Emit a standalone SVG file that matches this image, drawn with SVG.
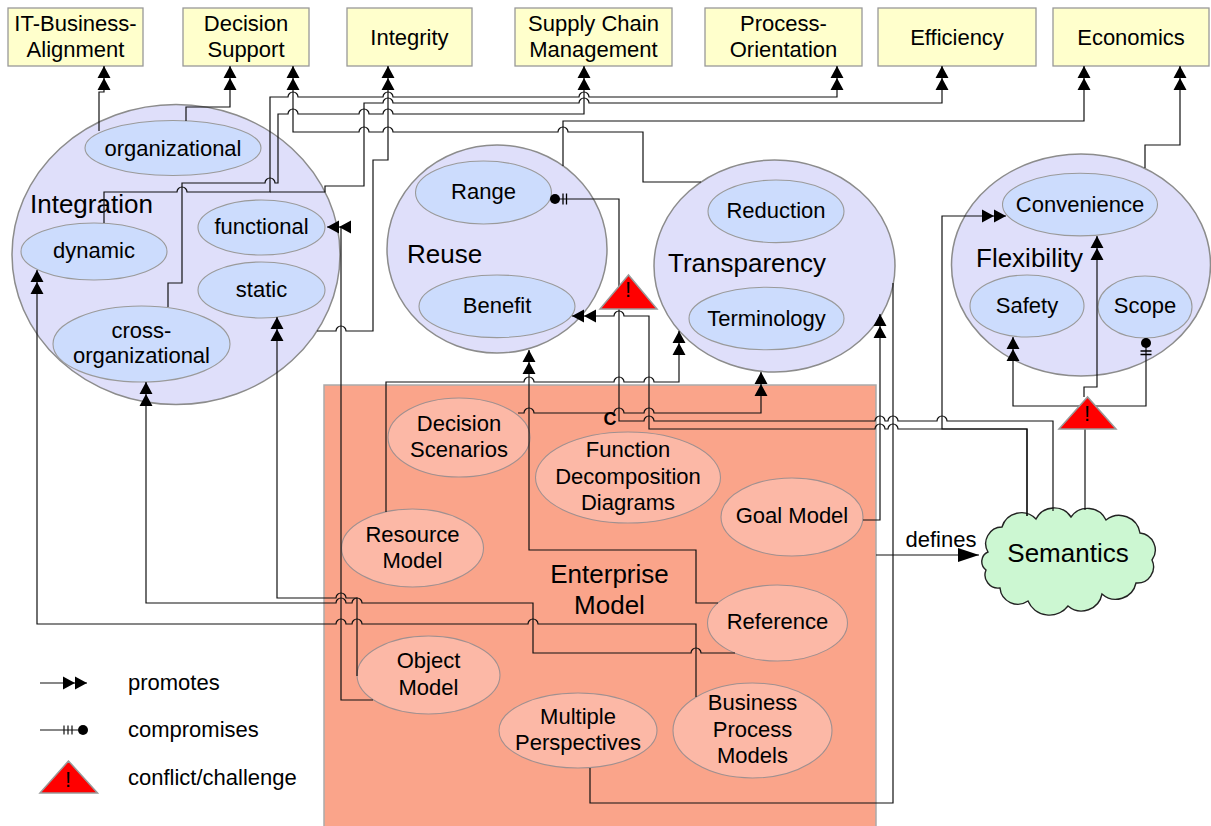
<svg xmlns="http://www.w3.org/2000/svg" width="1211" height="826" viewBox="0 0 1211 826">
<style>
.box{fill:#FFFFCC;stroke:#999;stroke-width:1.3}
.big{fill:#DFDFFA;stroke:#8c8c8c;stroke-width:1.5}
.inner{fill:#CCDCFD;stroke:#9a9a9a;stroke-width:1.1}
.em{fill:#FAA48A;stroke:#aaa;stroke-width:1.5}
.sal{fill:#FCB8A6;stroke:#a09090;stroke-width:1.1}
.warn{fill:#FF0000;stroke:#999;stroke-width:1.5}
.t{font-family:"Liberation Sans",Arial,sans-serif;font-size:22px;fill:#000;text-anchor:middle}
.tl{font-family:"Liberation Sans",Arial,sans-serif;font-size:22px;fill:#000}
.big-t{font-family:"Liberation Sans",Arial,sans-serif;font-size:26px;fill:#000}
.c{fill:none;stroke:#111;stroke-width:1.2}
.p{marker-end:url(#prom)}
.k{marker-end:url(#comp)}
</style>
<defs>
<marker id="prom" viewBox="-25 -7 26 14" refX="0" refY="0" markerWidth="26" markerHeight="14" markerUnits="userSpaceOnUse" orient="auto">
<path d="M0,0 L-12,-6.5 L-12,6.5 Z M-12,0 L-24,-6.5 L-24,6.5 Z" fill="#000"/>
</marker>
<marker id="comp" viewBox="-21 -7 22 14" refX="0" refY="0" markerWidth="22" markerHeight="14" markerUnits="userSpaceOnUse" orient="auto">
<circle cx="-5" cy="0" r="5" fill="#000"/>
<path d="M-13,-5.5 V5.5 M-16.5,-5.5 V5.5" stroke="#000" stroke-width="1.3"/>
</marker>
<marker id="arr" viewBox="-22 -8 23 16" refX="0" refY="0" markerWidth="23" markerHeight="16" markerUnits="userSpaceOnUse" orient="auto">
<path d="M0,0 L-21,-7 L-21,7 Z" fill="#000"/>
</marker>
</defs>
<rect width="1211" height="826" fill="#fff"/>

<!-- top goal boxes -->
<g id="it-business-alignment"><rect class="box" x="8" y="8" width="135" height="58"/><text class="t" x="75.5" y="31">IT-Business-</text><text class="t" x="75.5" y="57">Alignment</text></g>
<g id="decision-support"><rect class="box" x="183" y="8" width="126" height="58"/><text class="t" x="246" y="31">Decision</text><text class="t" x="246" y="57">Support</text></g>
<g id="integrity"><rect class="box" x="347" y="8" width="125" height="58"/><text class="t" x="409.5" y="45">Integrity</text></g>
<g id="supply-chain"><rect class="box" x="515" y="8" width="157" height="58"/><text class="t" x="593.5" y="31">Supply Chain</text><text class="t" x="593.5" y="57">Management</text></g>
<g id="process-orientation"><rect class="box" x="705" y="8" width="157" height="58"/><text class="t" x="783.5" y="31">Process-</text><text class="t" x="783.5" y="57">Orientation</text></g>
<g id="efficiency"><rect class="box" x="878" y="8" width="158" height="58"/><text class="t" x="957" y="45">Efficiency</text></g>
<g id="economics"><rect class="box" x="1053" y="8" width="156" height="58"/><text class="t" x="1131" y="45">Economics</text></g>

<!-- Integration -->
<g id="integration">
<ellipse class="big" cx="176" cy="254.5" rx="164" ry="150"/>
<text class="big-t" x="30" y="213">Integration</text>
<ellipse class="inner" cx="173" cy="148" rx="88" ry="27.5"/><text class="t" x="173" y="156">organizational</text>
<ellipse class="inner" cx="261.5" cy="227.5" rx="63.5" ry="27.5"/><text class="t" x="261.5" y="234">functional</text>
<ellipse class="inner" cx="94" cy="251.5" rx="73" ry="28.5"/><text class="t" x="94" y="258">dynamic</text>
<ellipse class="inner" cx="261.5" cy="290" rx="63.5" ry="28"/><text class="t" x="261.5" y="297">static</text>
<ellipse class="inner" cx="141.5" cy="344" rx="88.5" ry="38"/><text class="t" x="141.5" y="338">cross-</text><text class="t" x="141.5" y="363">organizational</text>
</g>

<!-- Reuse -->
<g id="reuse">
<ellipse class="big" cx="497" cy="249" rx="110" ry="104"/>
<text class="big-t" x="407" y="263">Reuse</text>
<ellipse class="inner" cx="483.5" cy="192.5" rx="68" ry="31.5"/><text class="t" x="483.5" y="199">Range</text>
<ellipse class="inner" cx="497" cy="306.3" rx="78" ry="31.3"/><text class="t" x="497" y="313">Benefit</text>
</g>

<!-- Transparency -->
<g id="transparency">
<ellipse class="big" cx="774.5" cy="266" rx="120.5" ry="106"/>
<text class="big-t" x="668" y="272">Transparency</text>
<ellipse class="inner" cx="776" cy="211.3" rx="68" ry="31.3"/><text class="t" x="776" y="218">Reduction</text>
<ellipse class="inner" cx="766.5" cy="318.5" rx="77.5" ry="31.3"/><text class="t" x="766.5" y="326">Terminology</text>
</g>

<!-- Flexibility -->
<g id="flexibility">
<ellipse class="big" cx="1081" cy="265" rx="129.5" ry="111"/>
<text class="big-t" x="976" y="267">Flexibility</text>
<ellipse class="inner" cx="1080" cy="204.6" rx="77.5" ry="31.3"/><text class="t" x="1080" y="212">Convenience</text>
<ellipse class="inner" cx="1027" cy="306" rx="57" ry="31"/><text class="t" x="1027" y="313">Safety</text>
<ellipse class="inner" cx="1145" cy="307" rx="47" ry="31"/><text class="t" x="1145" y="313">Scope</text>
</g>

<!-- Enterprise Model -->
<g id="enterprise-model">
<rect class="em" x="324" y="385" width="552" height="450"/>
<text class="big-t" x="609.5" y="583" text-anchor="middle">Enterprise</text>
<text class="big-t" x="609.5" y="614" text-anchor="middle">Model</text>
</g>
<g id="decision-scenarios"><ellipse class="sal" cx="459" cy="437.5" rx="71" ry="39.5"/><text class="t" x="459" y="431">Decision</text><text class="t" x="459" y="457">Scenarios</text></g>
<g id="function-decomposition"><ellipse class="sal" cx="628" cy="477.5" rx="92.5" ry="45.5"/><text class="t" x="628" y="457">Function</text><text class="t" x="628" y="484">Decomposition</text><text class="t" x="628" y="510">Diagrams</text></g>
<g id="goal-model"><ellipse class="sal" cx="792" cy="517" rx="71" ry="39"/><text class="t" x="792" y="523">Goal Model</text></g>
<g id="resource-model"><ellipse class="sal" cx="412.5" cy="548" rx="71" ry="39"/><text class="t" x="412.5" y="542">Resource</text><text class="t" x="412.5" y="568">Model</text></g>
<g id="reference"><ellipse class="sal" cx="777.5" cy="623" rx="70" ry="38"/><text class="t" x="777.5" y="629">Reference</text></g>
<g id="object-model"><ellipse class="sal" cx="428.5" cy="675" rx="71.5" ry="39"/><text class="t" x="428.5" y="668">Object</text><text class="t" x="428.5" y="695">Model</text></g>
<g id="multiple-perspectives"><ellipse class="sal" cx="578" cy="730.5" rx="79" ry="37.5"/><text class="t" x="578" y="724">Multiple</text><text class="t" x="578" y="750">Perspectives</text></g>
<g id="business-process-models"><ellipse class="sal" cx="752.5" cy="730.5" rx="79.5" ry="47.5"/><text class="t" x="752.5" y="710">Business</text><text class="t" x="752.5" y="737">Process</text><text class="t" x="752.5" y="763">Models</text></g>

<!-- Semantics -->
<g id="semantics">
<path d="M988,552 A16.6,16.6 0 0 1 1002,527 A20.2,20.2 0 0 1 1036,519 A20.3,20.3 0 0 1 1071,517 A20.4,20.4 0 0 1 1106,520 A21.1,21.1 0 0 1 1140,533 A17.1,17.1 0 0 1 1152,560 A16.2,16.2 0 0 1 1136,583 A20.7,20.7 0 0 1 1102,594 A20.9,20.9 0 0 1 1068,606 A23.4,23.4 0 0 1 1028,601 A17.9,17.9 0 0 1 1000,588 A13.2,13.2 0 0 1 986,570 A10.5,10.5 0 0 1 988,552 Z" fill="#CCF7D2" stroke="#222" stroke-width="1.4"/>
<text class="big-t" x="1068" y="562" text-anchor="middle">Semantics</text>
</g>

<!-- connectors -->
<g id="connectors">
<path class="c p" d="M99,131 V92 H104 V66"/>
<path class="c p" d="M186,121 V107 H230 V66"/>
<path class="c p" d="M104,223 V192 H177 a5,5 0 0 1 10,0 H270 V97 H288 a5,5 0 0 1 10,0 H383 a5,5 0 0 1 10,0 H579 a5,5 0 0 1 10,0 H837 V66"/>
<path class="c p" d="M168,307 V283 H182 V183 H265 a5,5 0 0 1 10,0 H278 V114 H288 a5,5 0 0 1 10,0 H359 a5,5 0 0 1 10,0 H383 a5,5 0 0 1 10,0 H584 V66"/>
<path class="c p" d="M270,192 H325 V186 H364 V103 H383 a5,5 0 0 1 10,0 H579 a5,5 0 0 1 10,0 H942 V66"/>
<path class="c p" d="M317,331 H336 a5,5 0 0 1 10,0 H373 V160 H388 V66"/>
<path class="c p" d="M701,182 H643 V132 H568 a5,5 0 0 0 -10,0 H393 a5,5 0 0 0 -10,0 H369 a5,5 0 0 0 -10,0 H293 V66"/>
<path class="c p" d="M563,166 V121 H1084 V66"/>
<path class="c p" d="M1145,168 V145 H1180 V66"/>
<path class="c p" d="M386,512 V382 H524 a5,5 0 0 1 10,0 H614 a5,5 0 0 1 10,0 H644 a5,5 0 0 1 10,0 H679 V331"/>
<path class="c p" d="M518,413 H524 a5,5 0 0 1 10,0 H614 a5,5 0 0 1 10,0 H644 a5,5 0 0 1 10,0 H761 V372"/>
<path class="c p" d="M718,603 H696 V550 H529 V350"/>
<path class="c p" d="M735,653 H701 a5,5 0 0 0 -10,0 H533 V603 H362 a5,5 0 0 0 -10,0 H346 a5,5 0 0 0 -10,0 H146 V382"/>
<path class="c p" d="M696,697 V624 H538 a5,5 0 0 0 -10,0 H362 a5,5 0 0 0 -10,0 H346 a5,5 0 0 0 -10,0 H37 V270"/>
<path class="c p" d="M357,676 V598 H346 a5,5 0 0 0 -10,0 H277 V317"/>
<path class="c p" d="M373,700 H341 V227 H327"/>
<path class="c k" d="M1053,511 V421 H947 a5,5 0 0 0 -10,0 H898 a5,5 0 0 0 -10,0 H885 a5,5 0 0 0 -10,0 H654 a5,5 0 0 0 -10,0 H619 V199 H550"/>
<path class="c p" d="M1027,516 V429 H898 a5,5 0 0 0 -10,0 H885 a5,5 0 0 0 -10,0 H649 V316 H624 a5,5 0 0 0 -10,0 H572"/>
<path class="c p" d="M1027,516 V429 H942 V216 H1006"/>
<path class="c p" d="M863,520 H880 V314"/>
<path class="c" d="M590,768 V803 H893 V283"/>
<path class="c" d="M876,555 H979" marker-end="url(#arr)"/>
<path class="c" d="M1085,510 V429"/>
<path class="c p" d="M1084,397 V387 H1097 V236"/>
<path class="c p" d="M1087,406 H1013 V337"/>
<path class="c k" d="M1087,406 H1146 V338"/>
<text x="941" y="547" class="t">defines</text>
<text x="610" y="425" font-family="Liberation Sans, Arial, sans-serif" font-size="18" font-weight="bold" text-anchor="middle">C</text>
</g>

<!-- conflict triangles -->
<g id="conflict-reuse"><polygon class="warn" points="628.5,275 600,309 657,309"/><text class="t" x="628" y="297">!</text></g>
<g id="conflict-flexibility"><polygon class="warn" points="1087.5,397 1059,429 1116,429"/><text class="t" x="1087" y="421">!</text></g>

<!-- legend -->
<g id="legend">
<path class="c p" d="M40,683 H87"/>
<text class="tl" x="128" y="690">promotes</text>
<path d="M40,730 H78 M64,725.5 V734.5 M68,725.5 V734.5 M72,725.5 V734.5" stroke="#111" stroke-width="1.2" fill="none"/>
<circle cx="83" cy="730" r="5" fill="#000"/>
<text class="tl" x="128" y="737">compromises</text>
<polygon class="warn" points="68.5,761 40,793 97.5,793"/><text class="t" x="68" y="787">!</text>
<text class="tl" x="128" y="785">conflict/challenge</text>
</g>
</svg>
